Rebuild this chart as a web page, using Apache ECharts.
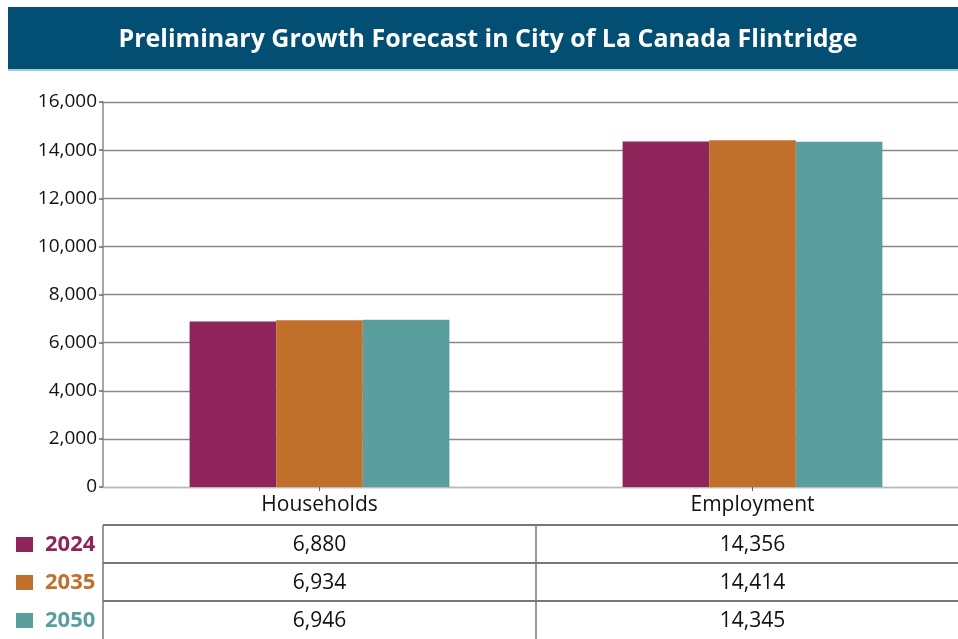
<!DOCTYPE html>
<html>
<head>
<meta charset="utf-8">
<script src="https://cdn.jsdelivr.net/npm/echarts@6/dist/echarts.min.js"></script>
<style>
html,body{margin:0;padding:0;background:#fff;overflow:hidden;}
#c{width:958px;height:639px;}
</style>
</head>
<body>
<div id="c"></div>
<script>
const titleText = 'Preliminary Growth Forecast in City of La Canada Flintridge';
const categories = ['Households', 'Employment'];
const years = ['2024', '2035', '2050'];
const values2024 = [6880, 14356];
const values2035 = [6934, 14414];
const values2050 = [6946, 14345];
const yTicks = [0, 2000, 4000, 6000, 8000, 10000, 12000, 14000, 16000];

const seriesValues = [values2024, values2035, values2050];
const colors = ['#8E2459', '#C0702A', '#5A9F9D'];
const FONT = '"Open Sans", "Noto Sans", sans-serif';
const fmt = v => v.toLocaleString('en-US');

const chart = echarts.init(document.getElementById('c'), null, {renderer: 'canvas'});

const option = {
  animation: false,
  backgroundColor: '#fff',
  grid: {left: 103, right: -11, top: 102, bottom: 152, containLabel: false, outerBoundsMode: 'none'},
  xAxis: {
    type: 'category',
    data: categories,
    axisLine: {show: true, lineStyle: {color: '#bbb', width: 1}},
    axisTick: {show: true, alignWithLabel: true, length: 4, lineStyle: {color: '#666'}},
    axisLabel: {color: '#111', fontSize: 21, fontFamily: FONT, margin: 8}
  },
  yAxis: {
    type: 'value',
    min: yTicks[0],
    max: yTicks[yTicks.length - 1],
    interval: yTicks[1] - yTicks[0],
    axisLine: {show: true, lineStyle: {color: '#888', width: 1.5}},
    axisTick: {show: true, length: 4, lineStyle: {color: '#666', width: 1.5}},
    axisLabel: {color: '#111', fontSize: 19, fontFamily: FONT, margin: 6, formatter: v => fmt(v)},
    splitLine: {show: true, lineStyle: {color: '#8a8a8a', width: 1.3}}
  },
  series: years.map((y, i) => ({
    name: y,
    type: 'bar',
    data: seriesValues[i],
    barGap: '0%',
    barCategoryGap: '40%',
    itemStyle: {color: colors[i]}
  }))
};
chart.setOption(option);

// Table and title drawn as graphics, positioned from the axes
const xCenters = categories.map(c => chart.convertToPixel({xAxisIndex: 0}, c));
const bandW = xCenters[1] - xCenters[0];
const plotLeft = xCenters[0] - bandW / 2;
const midX = (xCenters[0] + xCenters[1]) / 2;
const tableTop = 525, rowH = 38, rightEdge = 958;

const graphics = [];
// title bar
graphics.push({type: 'rect', shape: {x: 8, y: 7, width: 950, height: 63}, style: {fill: '#034E73'}, z: 10});
graphics.push({type: 'rect', shape: {x: 8, y: 69, width: 950, height: 2}, style: {fill: '#9CCBE2'}, z: 10});
graphics.push({type: 'text', x: 488, y: 40, z: 11, style: {text: titleText, fill: '#fff', font: 'bold 25px ' + FONT, textAlign: 'center', textVerticalAlign: 'middle'}});

// table lines
for (let r = 0; r < years.length; r++) {
  const y = tableTop + r * rowH;
  graphics.push({type: 'line', shape: {x1: plotLeft, y1: y, x2: rightEdge, y2: y}, style: {stroke: '#777', lineWidth: 2}, z: 5});
}
[plotLeft, midX].forEach(x => {
  graphics.push({type: 'line', shape: {x1: x, y1: tableTop, x2: x, y2: 639}, style: {stroke: '#777', lineWidth: 1.5}, z: 5});
});
// table rows
years.forEach((y, r) => {
  const cy = tableTop + r * rowH + rowH / 2 + 1;
  graphics.push({type: 'rect', shape: {x: 16, y: cy - 8, width: 17, height: 15}, style: {fill: colors[r]}, z: 5});
  graphics.push({type: 'text', x: 45, y: cy, z: 5, style: {text: y, fill: colors[r], font: 'bold 22px ' + FONT, textAlign: 'left', textVerticalAlign: 'middle'}});
  categories.forEach((c, ci) => {
    graphics.push({type: 'text', x: xCenters[ci], y: cy, z: 5, style: {text: fmt(seriesValues[r][ci]), fill: '#111', font: '21px ' + FONT, textAlign: 'center', textVerticalAlign: 'middle'}});
  });
});
chart.setOption({graphic: {elements: graphics}});
</script>
</body>
</html>
